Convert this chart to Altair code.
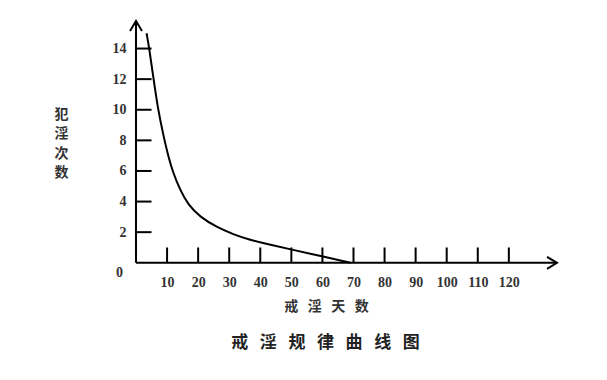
import altair as alt
import pandas as pd

# data
curve_x = [3.4, 4.2, 5.6, 7.0, 9.0, 10.4, 12.0, 14.2, 16.8, 20.6, 26.0, 31.3, 36.7, 42.6, 50.6, 60.4, 69.0]
curve_y = [15.0, 14.1, 12.1, 10.1, 8.15, 6.95, 5.85, 4.76, 3.78, 3.0, 2.32, 1.86, 1.49, 1.2, 0.84, 0.4, 0.0]
x_ticks = [10, 20, 30, 40, 50, 60, 70, 80, 90, 100, 110, 120]
y_ticks = [2, 4, 6, 8, 10, 12, 14]
x_max = 135.5
y_max = 15.8
y_min = -0.08
SP = "\u00a0"
x_title = (SP * 3).join(["戒", "淫", "天", "数"])
y_title = ["犯", "淫", "次", "数"]
main_title = (SP * 3).join(["戒", "淫", "规", "律", "曲", "线", "图"])

W, H = 421, 243
num_font = "Liberation Serif"
cjk_font = "Noto Sans CJK SC"

xs = alt.Scale(domain=[0, x_max], nice=False, zero=False)
ys = alt.Scale(domain=[y_min, y_max], nice=False, zero=False)

AX = alt.Axis(values=x_ticks, domain=False, ticks=False, grid=False,
              labelOverlap=False,
              labelFont=num_font, labelFontSize=14, labelFontWeight="bold",
              labelColor="#333", labelPadding=11,
              title=x_title, titleFont=cjk_font, titleFontSize=14,
              titleFontWeight="bold", titleColor="#333",
              titleX=190, titleY=42, titleBaseline="middle")
AY = alt.Axis(values=y_ticks, domain=False, ticks=False, grid=False,
              labelOverlap=False,
              labelFont=num_font, labelFontSize=14, labelFontWeight="bold",
              labelColor="#333", labelPadding=10,
              title=y_title, titleAngle=0, titleFont=cjk_font, titleFontSize=14,
              titleFontWeight="bold", titleColor="#333", titleLineHeight=19.5,
              titleX=-75, titleY=86, titleAlign="center", titleBaseline="top")

curve_df = pd.DataFrame({"x": curve_x, "y": curve_y})
xt_df = pd.DataFrame({"x": x_ticks, "y": [0] * len(x_ticks), "y1": [1.0] * len(x_ticks)})
yt_df = pd.DataFrame({"y": y_ticks, "x": [0] * len(y_ticks), "x1": [5.0] * len(y_ticks)})
axes_df = pd.DataFrame({"x": [0, 0], "y": [0, 0], "x2": [x_max, 0], "y2": [0, y_max]})
arrow_x = pd.DataFrame({"x": [x_max], "y": [0]})
arrow_y = pd.DataFrame({"x": [0], "y": [y_max]})
zero_df = pd.DataFrame({"x": [0], "y": [0], "t": ["0"]})

XE = alt.X("x:Q", scale=xs, axis=AX)
YE = alt.Y("y:Q", scale=ys, axis=AY)

curve = alt.Chart(curve_df).mark_line(
    interpolate="basis", color="black", strokeWidth=2
).encode(x=XE, y=YE)

axes_lines = alt.Chart(axes_df).mark_rule(color="black", strokeWidth=2).encode(
    x=XE, x2="x2:Q", y=YE, y2="y2:Q"
)

xticks = alt.Chart(xt_df).mark_rule(color="black", strokeWidth=2).encode(
    x=XE, y=YE, y2="y1:Q"
)
yticks = alt.Chart(yt_df).mark_rule(color="black", strokeWidth=2).encode(
    y=YE, x=XE, x2="x1:Q"
)

arr_x = alt.Chart(arrow_x).mark_point(
    shape="M-1,-0.6L0,0L-1,0.6", size=400, filled=False, stroke="black", strokeWidth=2, opacity=1
).encode(x=XE, y=YE)

arr_y = alt.Chart(arrow_y).mark_point(
    shape="M-0.6,1L0,0L0.6,1", size=400, filled=False, stroke="black", strokeWidth=2, opacity=1
).encode(x=XE, y=YE)

zero_lbl = alt.Chart(zero_df).mark_text(
    font=num_font, fontSize=14, fontWeight="bold", color="#333",
    align="right", baseline="middle", dx=-13, dy=10
).encode(x=XE, y=YE, text="t:N")

chart = alt.layer(curve, axes_lines, xticks, yticks, arr_x, arr_y, zero_lbl).properties(
    width=W, height=H,
    background="white",
    title=alt.TitleParams(main_title, orient="bottom", anchor="middle", font=cjk_font,
                          fontSize=17, fontWeight="bold", color="#222", dx=-21, offset=22),
    autosize=alt.AutoSizeParams(type="none"),
    padding={"left": 128, "top": 13, "right": 30, "bottom": 100},
).configure_view(strokeWidth=0, stroke="transparent").configure_axis(labelOverlap=False)

chart.save("out.html", embed_options={"renderer": "svg", "actions": False})
